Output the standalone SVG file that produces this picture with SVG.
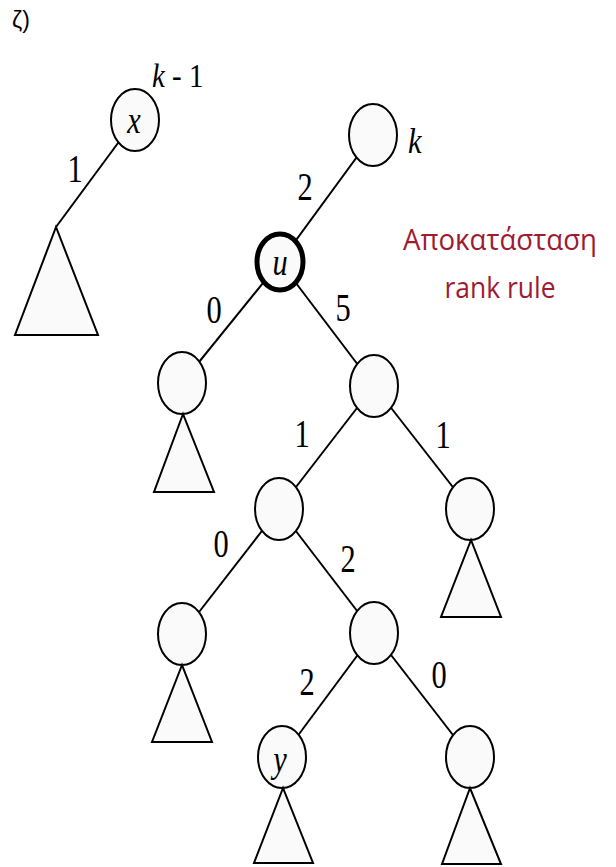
<svg xmlns="http://www.w3.org/2000/svg" width="616" height="867" viewBox="0 0 616 867">
<style>
.edge{stroke:#000;stroke-width:2;fill:none}
.node{fill:#fafafa;stroke:#000;stroke-width:2}
.bold{fill:#fafafa;stroke:#000;stroke-width:5}
.tri{fill:#fafafa;stroke:#000;stroke-width:2;stroke-linejoin:miter}
.num{font-family:"Liberation Serif",serif;font-size:39px;text-anchor:middle;fill:#000}
.var{font-family:"Liberation Serif",serif;font-size:38px;font-style:italic;text-anchor:middle;fill:#000}
.note{font-family:"Open Sans","Noto Sans",sans-serif;font-size:29px;fill:#9e1b32;text-anchor:middle}
.label{font-family:"Liberation Sans","DejaVu Sans",sans-serif;font-size:23px;fill:#000}
</style>
<rect width="616" height="867" fill="#fff"/>
<text class="label" x="12" y="28">ζ)</text>
<g id="connectors">
<line class="edge" x1="135" y1="120" x2="56" y2="227"/>
<line class="edge" x1="373" y1="135" x2="280" y2="262"/>
<line class="edge" x1="280" y1="262" x2="182" y2="383"/>
<line class="edge" x1="280" y1="262" x2="374" y2="386"/>
<line class="edge" x1="374" y1="386" x2="279" y2="509"/>
<line class="edge" x1="374" y1="386" x2="470" y2="509"/>
<line class="edge" x1="279" y1="509" x2="182" y2="634"/>
<line class="edge" x1="279" y1="509" x2="374" y2="633"/>
<line class="edge" x1="374" y1="633" x2="282" y2="757"/>
<line class="edge" x1="374" y1="633" x2="470" y2="757"/>
</g>
<g id="edge-labels">
<text class="num" transform="translate(75,182) scale(0.78,1)">1</text>
<text class="num" transform="translate(305,200) scale(0.78,1)">2</text>
<text class="num" transform="translate(214,323) scale(0.78,1)">0</text>
<text class="num" transform="translate(343,321) scale(0.78,1)">5</text>
<text class="num" transform="translate(302,447) scale(0.78,1)">1</text>
<text class="num" transform="translate(443,448) scale(0.78,1)">1</text>
<text class="num" transform="translate(221,557) scale(0.78,1)">0</text>
<text class="num" transform="translate(348,572) scale(0.78,1)">2</text>
<text class="num" transform="translate(307,695) scale(0.78,1)">2</text>
<text class="num" transform="translate(439,688) scale(0.78,1)">0</text>
</g>
<g id="subtree-x"><polygon class="tri" points="56,227 15,335 98,335"/></g>
<g id="node-x">
<ellipse class="node" cx="135" cy="120" rx="24" ry="31"/>
<text class="var" transform="translate(134,133) scale(0.8,1)">x</text>
<text transform="translate(152,87) scale(0.85,1)" font-family="Liberation Serif, serif" font-size="34"><tspan font-style="italic">k</tspan> - 1</text>
</g>
<g id="node-k">
<ellipse class="node" cx="373" cy="135" rx="24" ry="31"/>
<text transform="translate(408,153) scale(0.85,1)" font-family="Liberation Serif, serif" font-size="36" font-style="italic">k</text>
</g>
<g id="node-u">
<ellipse class="bold" cx="280" cy="262" rx="23" ry="28"/>
<text class="var" transform="translate(280,275) scale(0.8,1)">u</text>
</g>
<g id="node-a"><ellipse class="node" cx="182" cy="383" rx="24" ry="31"/></g>
<g id="subtree-a"><polygon class="tri" points="183,414 154,492 214,492"/></g>
<g id="node-b"><ellipse class="node" cx="374" cy="386" rx="24" ry="31"/></g>
<g id="node-c"><ellipse class="node" cx="279" cy="509" rx="24" ry="31"/></g>
<g id="node-d"><ellipse class="node" cx="470" cy="509" rx="24" ry="31"/></g>
<g id="subtree-d"><polygon class="tri" points="471,540 441,617 501,617"/></g>
<g id="node-e"><ellipse class="node" cx="182" cy="634" rx="24" ry="31"/></g>
<g id="subtree-e"><polygon class="tri" points="182,665 152,742 212,742"/></g>
<g id="node-f"><ellipse class="node" cx="374" cy="633" rx="24" ry="31"/></g>
<g id="node-y">
<ellipse class="node" cx="282" cy="757" rx="24" ry="31"/>
<text class="var" transform="translate(280,772) scale(0.8,1)">y</text>
</g>
<g id="subtree-y"><polygon class="tri" points="283,788 254,863 313,863"/></g>
<g id="node-g"><ellipse class="node" cx="470" cy="757" rx="24" ry="31"/></g>
<g id="subtree-g"><polygon class="tri" points="470,788 442,864 501,864"/></g>
<g id="note">
<text class="note" x="500" y="250" textLength="194" lengthAdjust="spacingAndGlyphs">Αποκατάσταση</text>
<text class="note" x="500" y="298" textLength="111" lengthAdjust="spacingAndGlyphs">rank rule</text>
</g>
</svg>
